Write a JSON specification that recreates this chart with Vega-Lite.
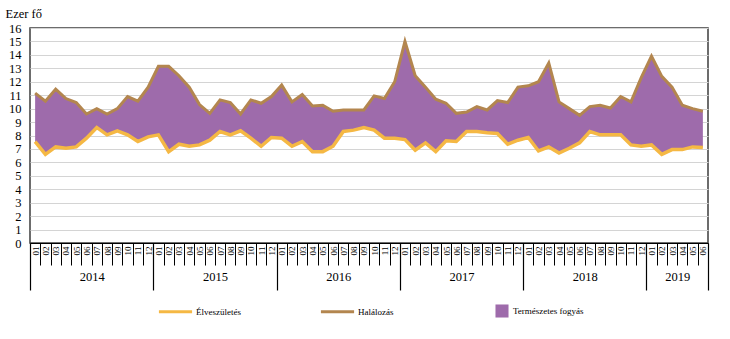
{
  "$schema": "https://vega.github.io/schema/vega-lite/v6.json",
  "width": 678,
  "height": 215,
  "autosize": {"type": "none"},
  "padding": {"left": 30, "top": 28, "right": 22, "bottom": 96},
  "background": "white",
  "config": {
    "view": {"stroke": "#3c3c3c", "strokeWidth": 1.5},
    "font": "Liberation Serif",
    "axis": {"labelFont": "Liberation Serif", "titleFont": "Liberation Serif", "labelColor": "#000", "titleColor": "#000", "titleFontWeight": "normal"},
    "legend": {"labelFont": "Liberation Serif", "labelFontSize": 9, "labelColor": "#000", "title": null}
  },
  "data": {
    "values": [
      {"i": 0, "birth": 7.55, "death": 11.15},
      {"i": 1, "birth": 6.6, "death": 10.55},
      {"i": 2, "birth": 7.15, "death": 11.45},
      {"i": 3, "birth": 7.05, "death": 10.75},
      {"i": 4, "birth": 7.15, "death": 10.45},
      {"i": 5, "birth": 7.8, "death": 9.6},
      {"i": 6, "birth": 8.6, "death": 10.0},
      {"i": 7, "birth": 8.05, "death": 9.6},
      {"i": 8, "birth": 8.35, "death": 10.0},
      {"i": 9, "birth": 8.05, "death": 10.9},
      {"i": 10, "birth": 7.55, "death": 10.55},
      {"i": 11, "birth": 7.9, "death": 11.6},
      {"i": 12, "birth": 8.05, "death": 13.15},
      {"i": 13, "birth": 6.8, "death": 13.15},
      {"i": 14, "birth": 7.35, "death": 12.45},
      {"i": 15, "birth": 7.2, "death": 11.6},
      {"i": 16, "birth": 7.3, "death": 10.3},
      {"i": 17, "birth": 7.65, "death": 9.65},
      {"i": 18, "birth": 8.3, "death": 10.65},
      {"i": 19, "birth": 8.05, "death": 10.45},
      {"i": 20, "birth": 8.35, "death": 9.6},
      {"i": 21, "birth": 7.8, "death": 10.65},
      {"i": 22, "birth": 7.2, "death": 10.4},
      {"i": 23, "birth": 7.85, "death": 10.9},
      {"i": 24, "birth": 7.8, "death": 11.75},
      {"i": 25, "birth": 7.2, "death": 10.5},
      {"i": 26, "birth": 7.55, "death": 11.05},
      {"i": 27, "birth": 6.8, "death": 10.2},
      {"i": 28, "birth": 6.8, "death": 10.25},
      {"i": 29, "birth": 7.2, "death": 9.8},
      {"i": 30, "birth": 8.3, "death": 9.9},
      {"i": 31, "birth": 8.4, "death": 9.9},
      {"i": 32, "birth": 8.6, "death": 9.9},
      {"i": 33, "birth": 8.4, "death": 10.95},
      {"i": 34, "birth": 7.8, "death": 10.75},
      {"i": 35, "birth": 7.8, "death": 12.0},
      {"i": 36, "birth": 7.7, "death": 15.0},
      {"i": 37, "birth": 6.9, "death": 12.45},
      {"i": 38, "birth": 7.45, "death": 11.6},
      {"i": 39, "birth": 6.8, "death": 10.7},
      {"i": 40, "birth": 7.6, "death": 10.4},
      {"i": 41, "birth": 7.55, "death": 9.65},
      {"i": 42, "birth": 8.3, "death": 9.75},
      {"i": 43, "birth": 8.3, "death": 10.15},
      {"i": 44, "birth": 8.2, "death": 9.9},
      {"i": 45, "birth": 8.15, "death": 10.6},
      {"i": 46, "birth": 7.35, "death": 10.45},
      {"i": 47, "birth": 7.65, "death": 11.6},
      {"i": 48, "birth": 7.85, "death": 11.7},
      {"i": 49, "birth": 6.85, "death": 12.0},
      {"i": 50, "birth": 7.15, "death": 13.4},
      {"i": 51, "birth": 6.7, "death": 10.5},
      {"i": 52, "birth": 7.05, "death": 10.0},
      {"i": 53, "birth": 7.45, "death": 9.5},
      {"i": 54, "birth": 8.3, "death": 10.15},
      {"i": 55, "birth": 8.05, "death": 10.25},
      {"i": 56, "birth": 8.05, "death": 10.05},
      {"i": 57, "birth": 8.05, "death": 10.9},
      {"i": 58, "birth": 7.3, "death": 10.5},
      {"i": 59, "birth": 7.2, "death": 12.3},
      {"i": 60, "birth": 7.3, "death": 13.9},
      {"i": 61, "birth": 6.6, "death": 12.4},
      {"i": 62, "birth": 6.95, "death": 11.6},
      {"i": 63, "birth": 6.95, "death": 10.25},
      {"i": 64, "birth": 7.15, "death": 10.0},
      {"i": 65, "birth": 7.1, "death": 9.8}
    ]
  },
  "layer": [
    {
      "mark": {"type": "area", "opacity": 1},
      "encoding": {
        "x": {
          "field": "i", "type": "quantitative",
          "scale": {"domain": [-0.5, 65.5], "nice": false, "zero": false},
          "axis": {
            "orient": "bottom",
            "values": [0,1,2,3,4,5,6,7,8,9,10,11,12,13,14,15,16,17,18,19,20,21,22,23,24,25,26,27,28,29,30,31,32,33,34,35,36,37,38,39,40,41,42,43,44,45,46,47,48,49,50,51,52,53,54,55,56,57,58,59,60,61,62,63,64,65],
            "labelExpr": "(datum.value % 12) < 9 ? '0' + (datum.value % 12 + 1) : '' + (datum.value % 12 + 1)",
            "labelAngle": 270, "labelFontSize": 9, "labelPadding": 3,
            "labelOverlap": false, "labelFlush": false,
            "ticks": false, "grid": false,
            "domain": true, "domainColor": "#000", "domainWidth": 1.2,
            "title": null
          }
        },
        "y": {
          "field": "birth", "type": "quantitative",
          "scale": {"domain": [0, 16], "nice": false},
          "axis": {
            "orient": "left",
            "values": [0,1,2,3,4,5,6,7,8,9,10,11,12,13,14,15,16],
            "grid": true, "gridColor": "#d4d4d4", "gridWidth": 1.2,
            "ticks": false, "domain": false,
            "labelFontSize": 12.5, "labelPadding": 9,
            "title": "Ezer fő", "titleAngle": 0, "titleX": -25, "titleY": -11,
            "titleAlign": "left", "titleBaseline": "alphabetic",
            "titleFontSize": 12.5, "titleFontWeight": 400
          }
        },
        "y2": {"field": "death"},
        "fill": {
          "datum": "Természetes fogyás",
          "scale": {"domain": ["Természetes fogyás"], "range": ["#9E6BAB"]},
          "legend": {
            "orient": "none", "legendX": 465, "legendY": 276,
            "symbolType": "square", "symbolSize": 170, "symbolStrokeWidth": 0,
            "symbolOpacity": 1, "labelOffset": 4
          }
        }
      }
    },
    {
      "mark": {"type": "line", "strokeWidth": 3.5},
      "encoding": {
        "x": {
          "field": "i", "type": "quantitative",
          "axis": {
            "orient": "bottom",
            "values": [-0.5,0.5,1.5,2.5,3.5,4.5,5.5,6.5,7.5,8.5,9.5,10.5,11.5,12.5,13.5,14.5,15.5,16.5,17.5,18.5,19.5,20.5,21.5,22.5,23.5,24.5,25.5,26.5,27.5,28.5,29.5,30.5,31.5,32.5,33.5,34.5,35.5,36.5,37.5,38.5,39.5,40.5,41.5,42.5,43.5,44.5,45.5,46.5,47.5,48.5,49.5,50.5,51.5,52.5,53.5,54.5,55.5,56.5,57.5,58.5,59.5,60.5,61.5,62.5,63.5,64.5,65.5],
            "labels": false, "domain": false, "grid": false,
            "ticks": true, "tickSize": 22, "tickColor": "#000", "tickWidth": 1,
            "title": null
          }
        },
        "y": {"field": "birth", "type": "quantitative", "axis": null},
        "stroke": {
          "datum": "Élveszületés",
          "scale": {"domain": ["Élveszületés", "Halálozás"], "range": ["#F5B844", "#B3864F"]},
          "legend": {
            "orient": "none", "legendX": 127, "legendY": 265,
            "direction": "horizontal", "columns": 2, "gridAlign": "all",
            "columnPadding": 73, "symbolType": "stroke", "symbolSize": 1100,
            "symbolStrokeWidth": 3, "labelOffset": 2
          }
        }
      }
    },
    {
      "mark": {"type": "line", "strokeWidth": 3},
      "encoding": {
        "x": {
          "field": "i", "type": "quantitative",
          "axis": {
            "orient": "bottom",
            "values": [-0.5, 11.5, 23.5, 35.5, 47.5, 59.5, 65.5],
            "labels": false, "domain": false, "grid": false,
            "ticks": true, "tickSize": 47, "tickColor": "#000", "tickWidth": 1.2,
            "title": null
          }
        },
        "y": {"field": "death", "type": "quantitative", "axis": null},
        "stroke": {"datum": "Halálozás"}
      }
    },
    {
      "mark": {"type": "rule", "opacity": 0},
      "encoding": {
        "x": {
          "field": "i", "type": "quantitative",
          "axis": {
            "orient": "bottom",
            "values": [5.5, 17.5, 29.5, 41.5, 53.5, 62.5],
            "labelExpr": "'' + (2014 + floor(datum.value / 12))",
            "labelAngle": 0, "labelFontSize": 12.5, "labelPadding": 27,
            "labelOverlap": false, "labelFlush": false,
            "ticks": false, "domain": false, "grid": false,
            "title": null
          }
        }
      }
    }
  ],
  "resolve": {"axis": {"x": "independent", "y": "independent"}}
}
